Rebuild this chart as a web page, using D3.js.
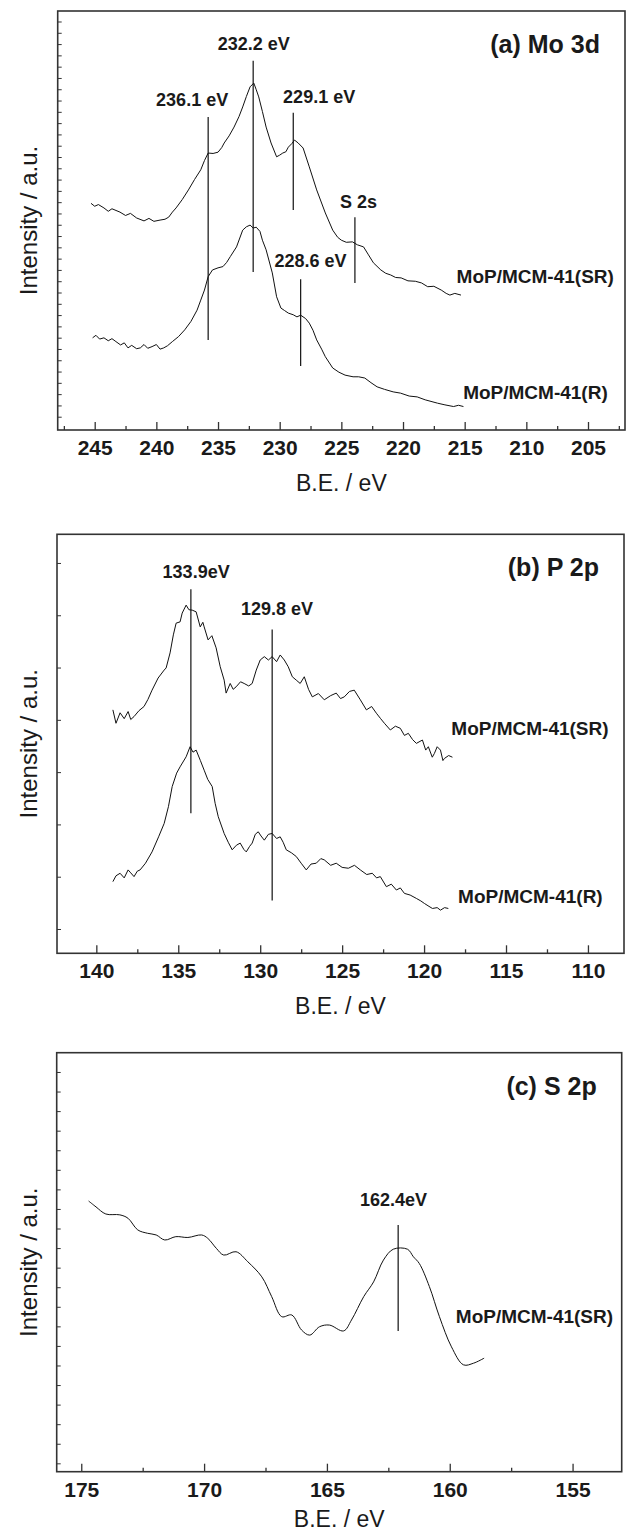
<!DOCTYPE html>
<html>
<head>
<meta charset="utf-8">
<script src="https://cdn.jsdelivr.net/npm/d3@7"></script>
<style>
  html, body { margin: 0; padding: 0; background: #fff; }
  svg { display: block; }
  text { font-family: "Liberation Sans", Arial, sans-serif; fill: #1a1a1a; }
</style>
</head>
<body>
<div id="chart"></div>
<script>
// ---- data (binding energy eV, intensity a.u.) ----
const mo3dSR = [
  [245.3,54.1],[245.0,53.4],[244.7,53.8],[244.25,53.0],[243.9,52.2],[243.6,52.8],[242.95,52.0],[242.5,51.2],
  [242.1,51.7],[241.6,50.6],[241.0,49.9],[240.6,50.5],[240.2,49.8],[239.7,50.1],[239.3,50.3],[239.0,50.8],
  [238.7,52.0],[238.4,53.0],[237.9,55.0],[237.4,57.3],[236.9,59.8],[236.4,62.1],[236.1,64.3],[235.8,66.1],
  [235.4,66.0],[235.0,66.3],[234.7,67.4],[234.5,68.5],[234.1,70.2],[233.7,72.3],[233.3,74.8],[233.0,77.1],
  [232.7,79.6],[232.4,81.9],[232.1,82.8],[231.9,81.2],[231.7,79.5],[231.4,76.0],[231.1,72.3],[230.7,68.5],
  [230.25,65.2],[230.0,65.6],[229.75,66.1],[229.5,66.4],[229.3,67.5],[229.0,68.4],[228.8,69.2],[228.5,68.5],
  [228.1,67.3],[227.6,62.8],[227.0,57.3],[226.3,51.8],[225.7,47.7],[225.3,46.0],[225.0,45.3],[224.6,44.8],
  [224.1,44.9],[223.7,44.2],[223.2,43.7],[222.8,41.8],[222.4,39.9],[221.8,38.2],[221.4,37.4],[221.0,37.0],
  [220.6,36.4],[220.15,36.3],[219.6,35.6],[219.0,35.5],[218.5,35.1],[218.0,34.2],[217.5,34.3],[216.9,33.4],
  [216.5,32.6],[216.2,32.2],[215.8,32.6],[215.3,32.2]
];
const mo3dR = [
  [245.17,22.0],[244.9,22.6],[244.6,21.7],[244.25,22.0],[243.9,21.3],[243.6,21.8],[243.28,21.1],[242.9,20.3],
  [242.6,20.8],[242.3,19.6],[242.0,20.2],[241.6,19.4],[241.3,19.6],[241.0,20.4],[240.7,19.5],[240.35,19.9],
  [240.0,20.4],[239.7,19.3],[239.4,19.6],[239.1,20.1],[238.7,21.1],[238.2,22.3],[237.7,23.9],[237.2,25.9],
  [236.7,28.6],[236.4,31.0],[236.1,33.4],[235.8,36.6],[235.45,38.2],[235.0,38.7],[234.6,39.0],[234.3,40.0],
  [234.0,41.4],[233.5,43.7],[233.0,47.7],[232.7,48.5],[232.4,48.9],[232.15,48.2],[231.9,48.4],[231.6,47.4],
  [231.4,45.3],[231.1,43.0],[230.6,37.5],[230.25,31.8],[229.9,29.1],[229.6,28.5],[229.3,27.9],[228.9,27.5],
  [228.6,27.0],[228.3,27.4],[227.9,26.6],[227.6,25.5],[227.3,23.8],[227.0,21.5],[226.6,19.3],[226.3,17.5],
  [225.7,14.8],[225.2,13.8],[224.7,13.1],[224.05,12.7],[223.6,12.7],[223.1,12.4],[222.6,11.3],[222.1,10.3],
  [221.5,9.7],[220.8,9.1],[220.2,8.8],[219.5,8.1],[218.85,7.9],[218.2,7.2],[217.2,6.4],[216.6,6.0],
  [215.9,5.6],[215.5,5.9],[215.1,5.6]
];
const p2pSR = [
  [138.99,58.1],[138.8,54.9],[138.55,57.4],[138.3,56.0],[138.06,57.7],[137.9,55.8],[137.7,56.5],[137.4,57.9],
  [137.09,58.9],[136.85,60.6],[136.6,62.8],[136.23,65.7],[135.86,67.6],[135.74,68.1],[135.5,71.7],[135.3,76.0],
  [135.13,78.8],[134.89,79.1],[134.76,81.2],[134.52,83.1],[134.35,82.0],[134.15,81.9],[133.91,81.5],[133.66,77.9],
  [133.5,79.0],[133.42,77.9],[133.18,74.8],[132.95,75.8],[132.69,72.9],[132.44,68.4],[132.2,65.2],[132.08,62.1],
  [131.83,64.4],[131.65,63.0],[131.47,63.6],[131.2,64.8],[130.98,64.4],[130.7,63.8],[130.49,64.4],[130.24,67.6],
  [130.0,70.0],[129.75,70.8],[129.5,70.0],[129.27,70.8],[129.0,69.6],[128.78,71.2],[128.53,70.0],[128.29,68.4],
  [128.04,66.0],[127.8,65.2],[127.56,64.4],[127.31,66.0],[127.05,63.0],[126.82,61.2],[126.45,62.0],[126.09,60.5],
  [125.7,61.5],[125.36,62.1],[125.1,60.8],[124.87,61.2],[124.55,62.5],[124.26,62.8],[123.89,60.5],[123.52,58.1],
  [123.2,58.9],[122.91,57.3],[122.65,56.0],[122.42,54.9],[122.06,53.3],[121.75,54.2],[121.45,53.7],[121.2,52.0],
  [120.96,52.5],[120.7,51.0],[120.47,50.1],[120.1,50.9],[119.9,48.5],[119.74,49.3],[119.5,46.8],[119.37,47.7],
  [119.2,49.3],[119.0,48.5],[118.85,46.0],[118.76,46.5],[118.5,47.2],[118.27,46.8]
];
const p2pR = [
  [138.99,17.1],[138.8,18.5],[138.55,19.1],[138.3,18.0],[138.06,19.9],[137.9,19.2],[137.7,18.3],[137.5,19.6],
  [137.33,19.9],[137.0,21.5],[136.6,24.2],[136.2,27.8],[135.86,31.0],[135.6,35.0],[135.37,39.8],[135.1,43.0],
  [134.89,44.5],[134.52,46.9],[134.28,49.3],[134.1,48.0],[133.91,48.5],[133.65,46.0],[133.42,43.7],[133.2,41.5],
  [132.93,39.8],[132.75,35.8],[132.56,32.6],[132.2,28.6],[131.95,26.5],[131.71,24.7],[131.45,25.8],[131.22,26.3],
  [131.0,24.8],[130.85,24.2],[130.65,25.5],[130.49,26.3],[130.3,28.4],[130.12,29.0],[129.95,28.0],[129.75,27.0],
  [129.5,28.4],[129.27,28.6],[129.0,27.4],[128.78,27.8],[128.6,26.5],[128.41,24.7],[128.1,24.0],[127.8,23.1],
  [127.5,21.5],[127.19,19.9],[126.9,21.3],[126.58,21.5],[126.3,22.6],[126.09,22.3],[125.7,21.0],[125.36,21.5],
  [125.0,20.5],[124.62,20.3],[124.25,21.0],[123.89,19.9],[123.5,18.8],[123.16,19.1],[122.9,18.0],[122.67,18.3],
  [122.3,15.9],[122.0,16.5],[121.69,15.1],[121.45,15.6],[121.2,14.3],[120.85,13.9],[120.47,13.1],[120.2,12.5],
  [119.98,11.9],[119.7,11.2],[119.49,10.7],[119.2,10.9],[119.0,10.3],[118.75,10.9],[118.52,10.7]
];
const s2pSR = [
  [174.70,64.6],[174.40,63.2],[174.0,61.5],[173.43,61.3],[173.1,60.5],[172.7,57.7],[172.3,56.9],[171.95,56.5],
  [171.6,55.3],[171.15,56.1],[170.66,55.9],[170.1,56.5],[169.85,55.7],[169.5,53.3],[169.2,51.7],[168.7,52.5],
  [168.22,50.1],[167.65,46.5],[167.25,41.8],[166.84,37.0],[166.43,37.4],[166.03,33.8],[165.7,32.6],[165.3,34.6],
  [164.9,35.0],[164.32,33.6],[164.0,36.2],[163.5,41.8],[163.1,45.3],[162.7,50.5],[162.3,53.1],[161.72,53.1],
  [161.48,51.3],[161.24,49.7],[160.83,44.2],[160.42,37.0],[159.93,29.8],[159.44,25.5],[159.03,25.9],[158.6,27.1]
];

// tick labels
const xTicksA = [245, 240, 235, 230, 225, 220, 215, 210, 205];
const xTicksB = [140, 135, 130, 125, 120, 115, 110];
const xTicksC = [175, 170, 165, 160, 155];

// peak markers: energy, line top/bottom intensity, label anchor
const markersA = [
  { text: "232.2 eV", e: 232.15, top: 88.1, bottom: 37.7, labelE: 232.1, labelI: 90.7 },
  { text: "236.1 eV", e: 235.8,  top: 74.7, bottom: 21.5, labelE: 237.1, labelI: 77.3 },
  { text: "229.1 eV", e: 228.9,  top: 75.7, bottom: 52.5, labelE: 226.8, labelI: 78.0 },
  { text: "S 2s",     e: 223.9,  top: 50.8, bottom: 35.1, labelE: 223.6, labelI: 53.0 },
  { text: "228.6 eV", e: 228.3,  top: 36.0, bottom: 15.3, labelE: 227.5, labelI: 38.9 }
];
const markersB = [
  { text: "133.9eV",  e: 134.23, top: 86.9, bottom: 33.4, labelE: 133.91, labelI: 89.5 },
  { text: "129.8 eV", e: 129.27, top: 77.3, bottom: 12.6, labelE: 128.97, labelI: 80.7 }
];
const markersC = [
  { text: "162.4eV", e: 162.1, top: 58.9, bottom: 33.6, labelE: 162.29, labelI: 63.4 }
];

// sample names, anchored at their right end
const samplesA = [
  { text: "MoP/MCM-41(SR)", e: 202.9, i: 35.1 },
  { text: "MoP/MCM-41(R)",  e: 203.4, i: 7.4 }
];
const samplesB = [
  { text: "MoP/MCM-41(SR)", e: 108.74, i: 52.1 },
  { text: "MoP/MCM-41(R)",  e: 109.1,  i: 12.1 }
];
const samplesC = [
  { text: "MoP/MCM-41(SR)", e: 153.35, i: 35.6 }
];

// ---- layout ----
const width = 627, height = 1531;

const panels = [
  { title: "(a) Mo 3d", frame: { l: 57.7, r: 625, t: 11, b: 430 }, xDomain: [248, 202],
    xTicks: xTicksA, series: [mo3dSR, mo3dR], markers: markersA, samples: samplesA,
    yTicks: { start: 3.17, step: 2.695 }, curve: d3.curveLinear, titleGap: 61 },
  { title: "(b) P 2p", frame: { l: 57, r: 624, t: 534.3, b: 953.3 }, xDomain: [142.4, 107.8],
    xTicks: xTicksB, series: [p2pSR, p2pR], markers: markersB, samples: samplesB,
    yTicks: { start: 5.8, step: 12.48 }, curve: d3.curveLinear, titleGap: 61 },
  { title: "(c) S 2p", frame: { l: 56.7, r: 621.7, t: 1052.7, b: 1471.7 }, xDomain: [176, 153],
    xTicks: xTicksC, series: [s2pSR], markers: markersC, samples: samplesC,
    yTicks: { start: 2.0, step: 4.67 }, curve: d3.curveCatmullRom, titleGap: 55 }
];

const svg = d3.select("#chart").append("svg")
  .attr("width", width)
  .attr("height", height)
  .attr("viewBox", [0, 0, width, height]);

svg.append("rect").attr("width", width).attr("height", height).attr("fill", "#fff");

panels.forEach(drawPanel);

function drawPanel(p) {
  const f = p.frame;
  const x = d3.scaleLinear().domain(p.xDomain).range([f.l, f.r]);
  const y = d3.scaleLinear().domain([0, 100]).range([f.b, f.t]);
  const g = svg.append("g");

  // minor x ticks every 2.5 eV, major (labelled) every 5 eV
  const lo = Math.min(...p.xDomain), hi = Math.max(...p.xDomain);
  const minor = d3.range(Math.ceil(lo / 2.5) * 2.5, hi, 2.5).filter(v => v % 5 !== 0);

  g.append("g")
    .attr("transform", `translate(0,${f.b})`)
    .call(d3.axisBottom(x).tickValues(minor).tickSize(-4).tickFormat(""))
    .call(a => a.select(".domain").remove())
    .call(a => a.selectAll("line").attr("stroke", "#333").attr("stroke-width", 1.3));

  g.append("g")
    .attr("transform", `translate(0,${f.b})`)
    .call(d3.axisBottom(x).tickValues(p.xTicks).tickSize(-8).tickPadding(10).tickFormat(d3.format("d")))
    .call(a => a.select(".domain").remove())
    .call(a => a.selectAll("line").attr("stroke", "#333").attr("stroke-width", 1.3))
    .call(a => a.selectAll("text")
      .attr("fill", "#1a1a1a")
      .style("font-family", '"Liberation Sans", Arial, sans-serif')
      .style("font-size", "21px")
      .style("font-weight", "bold"));

  g.append("g")
    .attr("transform", `translate(${f.l},0)`)
    .call(d3.axisLeft(y).tickValues(d3.range(p.yTicks.start, 100, p.yTicks.step)).tickSize(-4).tickFormat(""))
    .call(a => a.select(".domain").remove())
    .call(a => a.selectAll("line").attr("stroke", "#333").attr("stroke-width", 1));

  // frame
  g.append("rect")
    .attr("x", f.l).attr("y", f.t)
    .attr("width", f.r - f.l).attr("height", f.b - f.t)
    .attr("fill", "none").attr("stroke", "#333").attr("stroke-width", 1.6);

  // spectra
  const line = d3.line().x(d => x(d[0])).y(d => y(d[1])).curve(p.curve);
  g.selectAll("path.spec")
    .data(p.series)
    .join("path")
    .attr("class", "spec")
    .attr("d", line)
    .attr("fill", "none")
    .attr("stroke", "#111")
    .attr("stroke-width", 1)
    .attr("stroke-linejoin", "round");

  // peak markers
  g.selectAll("line.marker")
    .data(p.markers)
    .join("line")
    .attr("class", "marker")
    .attr("x1", d => x(d.e)).attr("x2", d => x(d.e))
    .attr("y1", d => y(d.top)).attr("y2", d => y(d.bottom))
    .attr("stroke", "#111").attr("stroke-width", 1.2);

  g.selectAll("text.mlabel")
    .data(p.markers)
    .join("text")
    .attr("class", "mlabel")
    .attr("x", d => x(d.labelE))
    .attr("y", d => y(d.labelI))
    .attr("text-anchor", "middle")
    .style("font-size", "18px")
    .style("font-weight", "bold")
    .text(d => d.text);

  g.selectAll("text.sample")
    .data(p.samples)
    .join("text")
    .attr("class", "sample")
    .attr("x", d => x(d.e))
    .attr("y", d => y(d.i))
    .attr("text-anchor", "end")
    .style("font-size", "19px")
    .style("font-weight", "bold")
    .text(d => d.text);

  // panel title
  g.append("text")
    .attr("x", f.r - 25)
    .attr("y", f.t + 42)
    .attr("text-anchor", "end")
    .style("font-size", "25px")
    .style("font-weight", "bold")
    .text(p.title);

  // axis titles
  g.append("text")
    .attr("x", (f.l + f.r) / 2)
    .attr("y", f.b + p.titleGap)
    .attr("text-anchor", "middle")
    .style("font-size", "23px")
    .text("B.E. / eV");

  g.append("text")
    .attr("transform", `translate(37,${(f.t + f.b) / 2}) rotate(-90)`)
    .attr("text-anchor", "middle")
    .style("font-size", "24px")
    .text("Intensity / a.u.");
}
</script>
</body>
</html>
